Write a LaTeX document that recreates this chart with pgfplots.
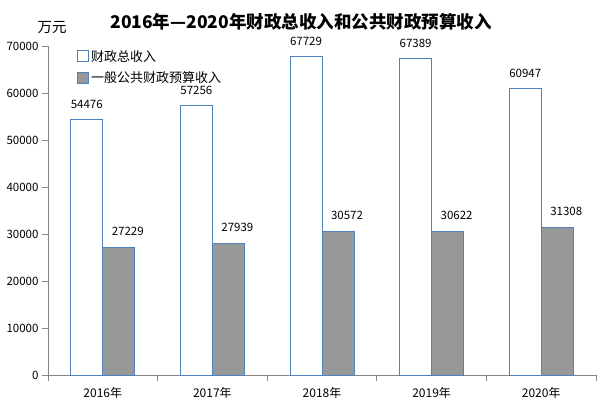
\documentclass[border=0pt]{standalone}
\usepackage{fontspec}
\setmainfont{Noto Sans CJK SC}
\usepackage{pgfplots}
\pgfplotsset{compat=1.18}
\definecolor{barblue}{HTML}{4F81BD}
\definecolor{bargray}{HTML}{989898}
\definecolor{axgray}{HTML}{868686}
\begin{document}
\begin{tikzpicture}[x=1bp,y=1bp]
\useasboundingbox (0,0) rectangle (598,406);
\node[font=\fontsize{17.5bp}{20bp}\selectfont\bfseries] at (301,384) {2016年—2020年财政总收入和公共财政预算收入};
\node[font=\fontsize{14.5bp}{16bp}\selectfont] at (52,378) {万元};
\begin{axis}[
  at={(48bp,31bp)}, anchor=south west,
  scale only axis, width=548bp, height=329bp,
  xmin=-0.5, xmax=4.5, ymin=0, ymax=70000,
  axis lines=left, axis line style={-, draw=axgray, line width=0.8bp},
  ybar=0pt, bar width=32bp,
  ytick={0,10000,...,70000}, scaled y ticks=false,
  y tick label style={/pgf/number format/1000 sep={}, font=\fontsize{11.5bp}{13bp}\selectfont},
  yticklabel style={/pgf/number format/assume math mode=true},
  xtick={0,1,2,3,4}, xticklabels={2016年,2017年,2018年,2019年,2020年},
  x tick label style={font=\fontsize{12bp}{14bp}\selectfont, yshift=-3bp},
  major x tick style={draw=none},
  minor xtick={-0.5,0.5,1.5,2.5,3.5,4.5},
  tick align=outside, major tick length=6bp, minor tick length=6bp,
  tick style={draw=axgray, line width=0.8bp},
  every minor tick/.style={draw=axgray, line width=0.8bp},
  nodes near coords,
  nodes near coords style={font=\fontsize{11.5bp}{13bp}\selectfont, /pgf/number format/1000 sep={}, /pgf/number format/assume math mode=true, anchor=south},
  legend style={draw=none, fill=none, at={(29bp,327bp)}, anchor=north west, font=\fontsize{13bp}{15bp}\selectfont, row sep=5bp, inner sep=0pt, cells={anchor=west}},
  legend image code/.code={\draw[#1] (0bp,-5.5bp) rectangle (11bp,5.5bp);},
  clip=false,
]
\addplot[draw=barblue, fill=white, line width=0.9bp, nodes near coords style={yshift=7bp}] coordinates {(0,54476) (1,57256) (2,67729) (3,67389) (4,60947)};
\addplot[draw=barblue, fill=bargray, line width=0.9bp, nodes near coords style={yshift=8bp, xshift=9bp}] coordinates {(0,27229) (1,27939) (2,30572) (3,30622) (4,31308)};
\legend{财政总收入,一般公共财政预算收入}
\end{axis}
\end{tikzpicture}
\end{document}
